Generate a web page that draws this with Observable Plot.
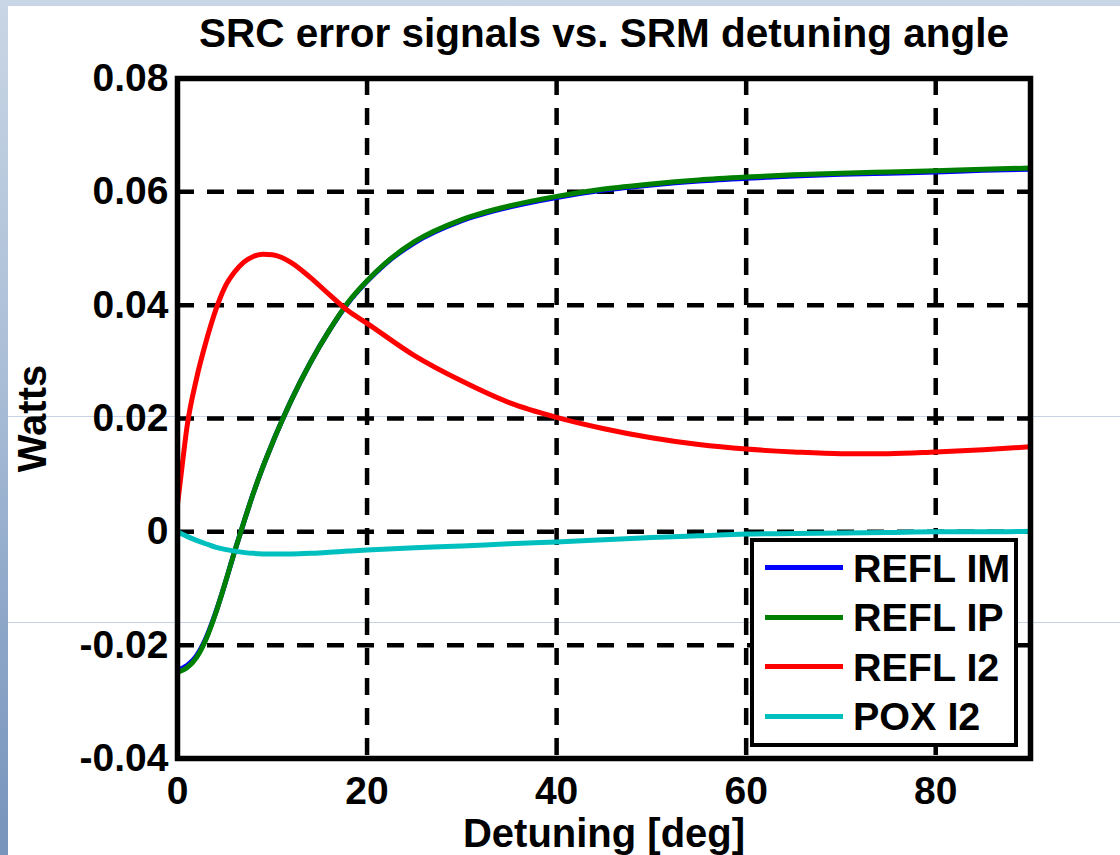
<!DOCTYPE html>
<html>
<head>
<meta charset="utf-8">
<script src="https://cdn.jsdelivr.net/npm/d3@7"></script>
<script src="https://cdn.jsdelivr.net/npm/@observablehq/plot@0.6"></script>
<style>
  html, body { margin: 0; padding: 0; }
  body {
    width: 1120px; height: 855px; position: relative; overflow: hidden;
    background: linear-gradient(to bottom, #c9d6e5 0%, #a9bdd6 45%, #8ba5c8 75%, #7894bb 100%);
    font-family: "Liberation Sans", Arial, Helvetica, sans-serif;
  }
  #panel { position: absolute; left: 8px; top: 6px; right: 0; bottom: 0; background: #fff; }
  .sline { position: absolute; left: 8px; right: 0; height: 1px; background: #c6d3e5; }
  #title {
    position: absolute; left: 0; top: 13px; width: 1120px; text-align: center;
    font-size: 40.5px; line-height: 40px; font-weight: bold; color: #000;
    padding-left: 88px; box-sizing: border-box;
  }
  #chart { position: absolute; left: 0; top: 60px; }
  #legend {
    position: absolute; left: 750px; top: 538px; width: 268px; height: 209px;
    box-sizing: border-box; border: 4.5px solid #000; background: #fff;
  }
  .row { position: absolute; left: 0; height: 50px; width: 100%; }
  .sw { position: absolute; left: 11px; width: 78px; height: 5px; top: 22.5px; }
  .lab { position: absolute; left: 99px; top: 0; font-size: 39.5px; line-height: 50px; font-weight: bold; color: #000; white-space: nowrap; }
</style>
</head>
<body>
<div id="panel"></div>
<div class="sline" style="top:416px"></div>
<div class="sline" style="top:622px"></div>
<div id="title">SRC error signals vs. SRM detuning angle</div>
<div id="chart"></div>
<div id="legend"></div>
<script>
// ---- data ----
const seriesNames = ["REFL IM", "REFL IP", "REFL I2", "POX I2"];
const seriesColors = ["#0000ff", "#008000", "#ff0000", "#00bfbf"];

const gridDetuning = [0,1,2,3,4,5,6,7,8,9,10,11,12,14,16,18,20,22,25,30,35,40,45,50,55,60,65,70,75,80,85,90];

const reflIP = [-0.0248,-0.0240,-0.0222,-0.0190,-0.0145,-0.0092,-0.0036,0.0017,0.0068,0.0114,0.0156,0.0195,0.0232,0.0298,0.0355,0.0405,0.0443,0.0475,0.0512,0.0551,0.0575,0.0592,0.0605,0.0614,0.0621,0.0626,0.0630,0.0633,0.0635,0.0637,0.0640,0.0642];
const reflIM = [-0.0244,-0.0236,-0.0219,-0.0188,-0.0144,-0.0092,-0.0036,0.0017,0.0068,0.0114,0.0156,0.0195,0.0232,0.0298,0.0355,0.0404,0.0442,0.0474,0.0510,0.0549,0.0573,0.0590,0.0603,0.0612,0.0619,0.0624,0.0628,0.0631,0.0633,0.0635,0.0638,0.0640];

const reflI2Detuning = [0,0.5,1,2,3,4,5,6,7,8,9,10,11,12,14,16,18,20,25,30,35,40,45,50,55,60,65,70,75,80,85,90];
const reflI2 = [0.0048,0.0118,0.0185,0.0270,0.0335,0.0390,0.0432,0.0458,0.0476,0.0486,0.0490,0.0489,0.0484,0.0475,0.0449,0.0419,0.0390,0.0368,0.0311,0.0266,0.0228,0.0202,0.0182,0.0166,0.0154,0.0146,0.0141,0.0138,0.0138,0.0141,0.0145,0.0150];

const poxI2Detuning = [0,1,2,3,4,5,6,8,10,12,14,16,18,20,25,30,35,40,45,50,55,60,65,70,75,80,85,90];
const poxI2 = [0.0000,-0.0008,-0.0015,-0.0021,-0.0027,-0.0031,-0.0034,-0.0038,-0.0039,-0.0039,-0.0038,-0.0036,-0.0034,-0.0032,-0.0028,-0.0025,-0.0021,-0.0018,-0.0014,-0.0010,-0.0007,-0.0004,-0.0003,-0.0002,-0.0001,0.0000,0.0000,0.0001];

const xTicks = [0, 20, 40, 60, 80];
const xTickLabels = ["0", "20", "40", "60", "80"];
const yTicks = [-0.04, -0.02, 0, 0.02, 0.04, 0.06, 0.08];
const yTickLabels = ["-0.04", "-0.02", "0", "0.02", "0.04", "0.06", "0.08"];
const xGridLines = [20, 40, 60, 80];
const yGridLines = [-0.02, 0, 0.02, 0.04, 0.06];

const titleText = "SRC error signals vs. SRM detuning angle";
const xLabel = "Detuning [deg]";
const yLabel = "Watts";

// ---- build table ----
const seriesX = [gridDetuning, gridDetuning, reflI2Detuning, poxI2Detuning];
const seriesY = [reflIM, reflIP, reflI2, poxI2];
const rows = seriesNames.flatMap((name, k) =>
  seriesX[k].map((x, i) => ({series: name, x, y: seriesY[k][i]})));

const fmtX = d => xTickLabels[xTicks.indexOf(d)];
const fmtY = d => yTickLabels[yTicks.findIndex(t => Math.abs(t - d) < 1e-9)];

const gridStyle = {stroke: "#000", strokeOpacity: 1, strokeWidth: 4.5, strokeDasharray: "17,13"};

const chart = Plot.plot({
  width: 1120,
  height: 795,
  marginLeft: 177,
  marginRight: 90,
  marginTop: 18,
  marginBottom: 97,
  x: {domain: [0, 90]},
  y: {domain: [-0.04, 0.08]},
  color: {domain: seriesNames, range: seriesColors},
  style: {
    fontFamily: '"Liberation Sans", Arial, Helvetica, sans-serif',
    fontWeight: "bold",
    fontSize: "39px",
    color: "#000",
    background: "transparent",
    overflow: "visible"
  },
  marks: [
    Plot.gridX(xGridLines, gridStyle),
    Plot.gridY(yGridLines, gridStyle),
    Plot.line(rows, {x: "x", y: "y", z: "series", stroke: "series", strokeWidth: 5, curve: "monotone-x"}),
    Plot.frame({stroke: "#000", strokeWidth: 5.5}),
    Plot.axisX(xTicks, {tickSize: 0, tickPadding: 18, tickFormat: fmtX, fontSize: 39, fontWeight: "bold", label: null}),
    Plot.axisY(yTicks, {tickSize: 0, tickPadding: 9, tickFormat: fmtY, fontSize: 39, fontWeight: "bold", label: null}),
    Plot.text([yLabel], {frameAnchor: "left", rotate: -90, dx: -144, text: d => d, fontSize: 40, fontWeight: "bold", lineAnchor: "middle", textAnchor: "middle"}),
    Plot.text([xLabel], {frameAnchor: "bottom", dy: 60, text: d => d, fontSize: 40, fontWeight: "bold", lineAnchor: "top", textAnchor: "middle"})
  ]
});
document.getElementById("chart").appendChild(chart);
document.getElementById("title").textContent = titleText;

// ---- legend ----
const legend = document.getElementById("legend");
const rowCenters = [30, 79.5, 129, 178.5];
seriesNames.forEach((name, i) => {
  const r = document.createElement("div");
  r.className = "row";
  r.style.top = (rowCenters[i] - 4.5 - 25) + "px";
  const sw = document.createElement("div");
  sw.className = "sw";
  sw.style.background = seriesColors[i];
  const lab = document.createElement("div");
  lab.className = "lab";
  lab.textContent = name;
  r.appendChild(sw); r.appendChild(lab);
  legend.appendChild(r);
});
</script>
</body>
</html>
